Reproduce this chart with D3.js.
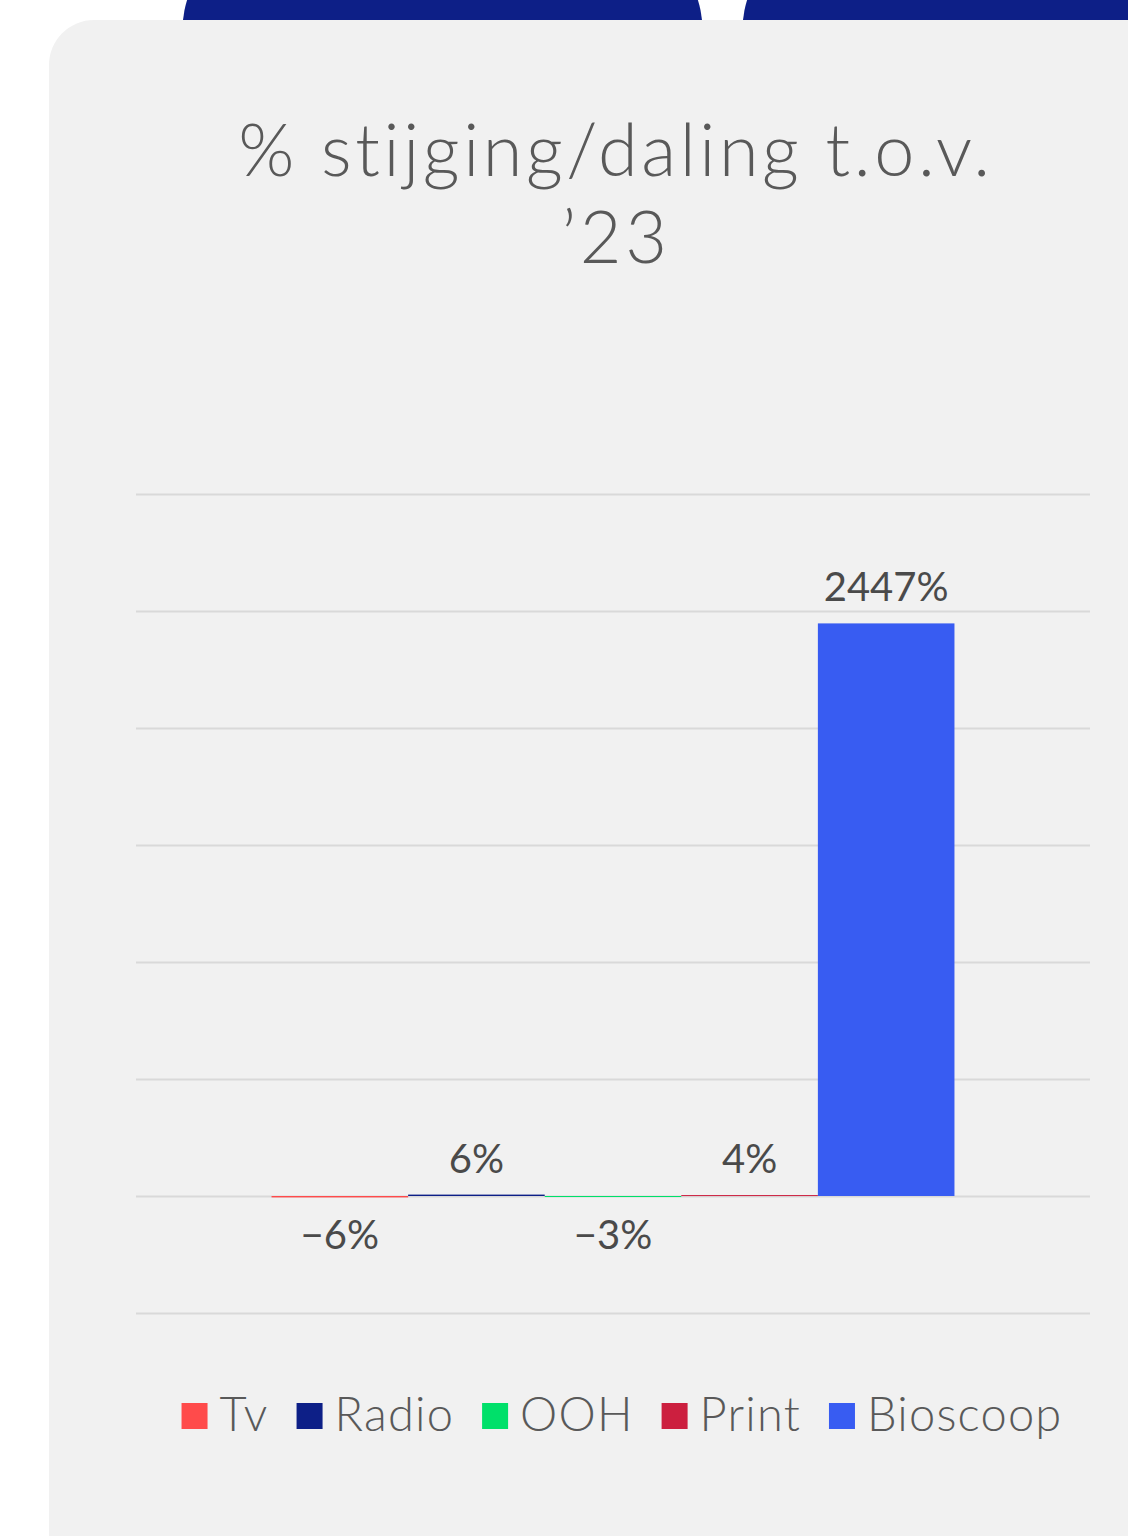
<!DOCTYPE html>
<html><head><meta charset="utf-8">
<script src="https://cdn.jsdelivr.net/npm/d3@7/dist/d3.min.js"></script>
<style>
html,body{margin:0;padding:0;background:#fff;}
svg{display:block;}
text{font-family:Lato,"Noto Sans",sans-serif;}
</style></head>
<body>
<svg id="chart" width="1128" height="1536"></svg>
<script>
// ---- data ----
const titleLines = ["% stijging/daling t.o.v.", "’23"];
const categories = [""];
const seriesNames = ["Tv", "Radio", "OOH", "Print", "Bioscoop"];
const seriesValues = [-6, 6, -3, 4, 2447];
const seriesColors = ["#ff4b4b", "#0d1f87", "#00e06a", "#cc1f3f", "#385cf2"];
const yTicks = [-500, 0, 500, 1000, 1500, 2000, 2500, 3000];

const svg = d3.select("#chart");

// decorative top shapes
svg.append("rect").attr("x", 182.5).attr("y", -70).attr("width", 520).attr("height", 200)
  .attr("rx", 100).attr("fill", "#0d1f87");
svg.append("rect").attr("x", 742.5).attr("y", -70).attr("width", 600).attr("height", 200)
  .attr("rx", 100).attr("fill", "#0d1f87");

// panel
svg.append("rect").attr("x", 49).attr("y", 20).attr("width", 1200).attr("height", 1570)
  .attr("rx", 45).attr("fill", "#f1f1f1");

// title
const title = svg.append("text").attr("text-anchor", "middle").attr("fill", "#595959")
  .attr("font-size", 72).attr("font-weight", 300).attr("letter-spacing", 3.6);
titleLines.forEach((t, i) => {
  title.append("tspan").attr("x", 616).attr("y", 176 + i * 87).text(t);
});

// scales
const plot = {left: 136, right: 1090};
const y = d3.scaleLinear().domain([-500, 3000]).range([1313, 494]);
const x0 = d3.scaleBand().domain(categories).range([plot.left, plot.right])
  .paddingInner(0.1656).paddingOuter(0.1656);
const x1 = d3.scaleBand().domain(seriesNames).range([0, x0.bandwidth()]).padding(0);

// gridlines
const yAxis = d3.axisLeft(y).tickValues(yTicks).tickSize(-(plot.right - plot.left)).tickFormat("");
const g = svg.append("g").attr("transform", `translate(${plot.left},0)`).call(yAxis);
g.select(".domain").remove();
g.selectAll(".tick line").attr("stroke", "#d9d9d9").attr("stroke-width", 2);

// bars
const data = seriesNames.map((n, i) => ({name: n, value: seriesValues[i], color: seriesColors[i]}));
const bars = svg.append("g").attr("transform", `translate(${x0(categories[0])},0)`);
bars.selectAll("rect").data(data).join("rect")
  .attr("x", d => x1(d.name))
  .attr("width", x1.bandwidth())
  .attr("y", d => y(Math.max(0, d.value)))
  .attr("height", d => Math.max(1, Math.abs(y(d.value) - y(0))))
  .attr("fill", d => d.color);

const fmt = d3.format("d");
bars.selectAll("text").data(data).join("text")
  .attr("x", d => x1(d.name) + x1.bandwidth() / 2)
  .attr("y", d => d.value >= 0 ? y(d.value) - 22 : y(d.value) + 52)
  .attr("text-anchor", "middle")
  .attr("fill", "#4a4a4a")
  .attr("font-size", 40)
  .attr("font-weight", 400)
  .text(d => fmt(d.value) + "%");

// legend
const legend = svg.append("g");
const items = legend.selectAll("g").data(data).join("g");
items.append("rect").attr("width", 26).attr("height", 26).attr("y", 1403).attr("fill", d => d.color);
items.append("text").attr("x", 38).attr("y", 1431).attr("fill", "#595959")
  .attr("font-size", 47).attr("font-weight", 300).attr("letter-spacing", 1.2).text(d => d.name);
const gap = 28;
const widths = [];
items.each(function () {
  const w = 38 + this.querySelector("text").getComputedTextLength();
  widths.push(w);
});
const total = d3.sum(widths) + gap * (widths.length - 1);
let start = 622 - total / 2;
items.attr("transform", (d, i) => {
  const tx = start;
  start += widths[i] + gap;
  return `translate(${tx},0)`;
});
</script>
</body></html>
